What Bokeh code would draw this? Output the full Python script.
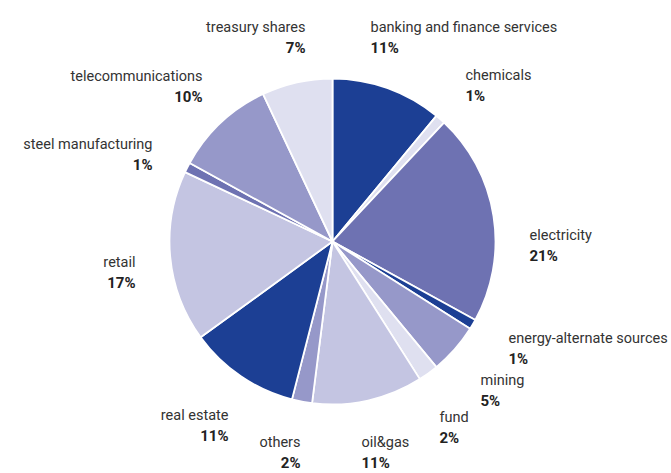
import math
from bokeh.plotting import figure
from bokeh.models import Range1d, ColumnDataSource
from bokeh.embed import file_html
from bokeh.resources import INLINE
from bokeh.core.properties import value

# ---- data ----
sectors = ["banking and finance services", "chemicals", "electricity",
           "energy-alternate sources", "mining", "fund", "oil&gas", "others",
           "real estate", "retail", "steel manufacturing", "telecommunications",
           "treasury shares"]
shares = [11, 1, 21, 1, 5, 2, 11, 2, 11, 17, 1, 10, 7]

# ---- style ----
DARK, MED, MEDL, LIGHT, VLIGHT = "#1c3f94", "#6e72b2", "#9698c9", "#c4c5e2", "#dfe0f0"
colors = [DARK, VLIGHT, MED, DARK, MEDL, VLIGHT, LIGHT, MEDL, DARK, LIGHT, MED, MEDL, VLIGHT]

# label layout (image px: anchor x, name baseline y, alignment)
label_layout = [(370, 27, "left"), (465, 75, "left"), (529, 235, "left"),
                (508, 338, "left"), (480, 380, "left"), (439, 417, "left"),
                (361, 442, "left"), (300, 442, "right"), (228, 415, "right"),
                (135, 262, "right"), (152, 144, "right"), (202, 76, "right"),
                (305, 27, "right")]

W, H = 671, 473
CX, CY, R = 332, 241, 163

p = figure(width=W, height=H, output_backend="svg", toolbar_location=None,
           x_range=Range1d(0, W), y_range=Range1d(0, H), min_border=0)
p.axis.visible = False
p.xgrid.visible = False
p.ygrid.visible = False
p.outline_line_color = None
p.background_fill_color = "white"
p.border_fill_color = "white"

total = float(sum(shares))
starts, ends = [], []
cum = 0.0
for s in shares:
    starts.append(math.pi / 2 - 2 * math.pi * cum / total)
    cum += s
    ends.append(math.pi / 2 - 2 * math.pi * cum / total)

src = ColumnDataSource(dict(start=starts, end=ends, color=colors))
p.wedge(x=CX, y=H - CY, radius=R, start_angle="start", end_angle="end",
        direction="clock", fill_color="color", line_color="white", line_width=1.8,
        source=src)

FONT = "Roboto"
for align in ("left", "right"):
    xs, ny, py, names, pcts = [], [], [], [], []
    for (lx, ly, a), name, s in zip(label_layout, sectors, shares):
        if a != align:
            continue
        xs.append(lx)
        ny.append(H - ly)
        py.append(H - ly - 20)
        names.append(name)
        pcts.append(f"{s}%")
    p.text(x=xs, y=ny, text=names, text_align=align, text_baseline="alphabetic",
           text_font=value(FONT), text_font_size="14.5px", text_color="#333333")
    p.text(x=xs, y=py, text=pcts, text_align=align, text_baseline="alphabetic",
           text_font=value(FONT), text_font_size="15px", text_font_style="bold",
           text_color="#222222")

open("out.html", "w").write(file_html(p, INLINE))
